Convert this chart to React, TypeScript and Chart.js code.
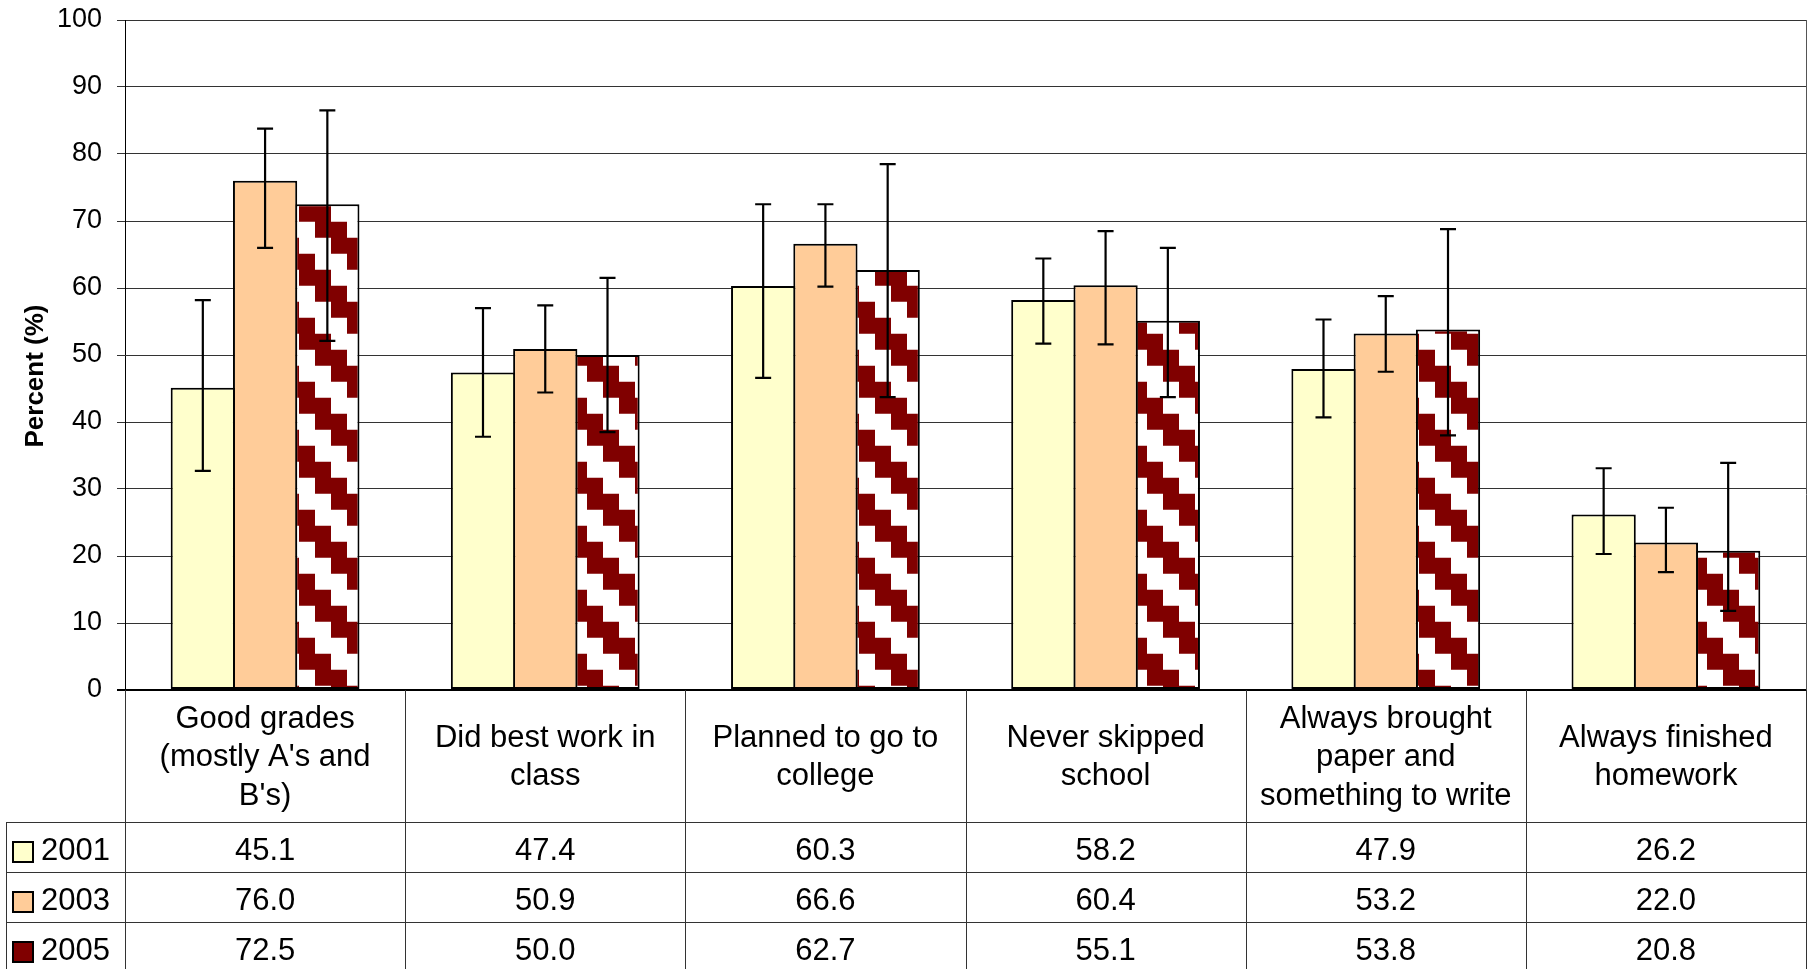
import React, { useEffect, useRef } from "react";
import { Chart, registerables } from "chart.js";

Chart.register(...registerables);

const FONT = "'Liberation Sans', Arial, Helvetica, sans-serif";

const categories: string[][] = [
  ["Good grades", "(mostly A's and", "B's)"],
  ["Did best work in", "class"],
  ["Planned to go to", "college"],
  ["Never skipped", "school"],
  ["Always brought", "paper and", "something to write"],
  ["Always finished", "homework"],
];

const years = ["2001", "2003", "2005"];

const values2001 = [45.1, 47.4, 60.3, 58.2, 47.9, 26.2];
const values2003 = [76.0, 50.9, 66.6, 60.4, 53.2, 22.0];
const values2005 = [72.5, 50.0, 62.7, 55.1, 53.8, 20.8];

const low2001 = [32.7, 37.8, 46.6, 51.7, 40.7, 20.3];
const high2001 = [58.2, 57.0, 72.5, 64.4, 55.3, 33.1];
const low2003 = [66.0, 44.4, 60.2, 51.6, 47.5, 17.6];
const high2003 = [83.8, 57.4, 72.5, 68.5, 58.8, 27.2];
const low2005 = [52.1, 38.5, 43.7, 43.7, 38.0, 11.8];
const high2005 = [86.5, 61.5, 78.5, 66.0, 68.8, 33.9];

const yMin = 0;
const yMax = 100;
const yStep = 10;
const yTitle = "Percent (%)";

const color2001 = "#FFFFCC";
const color2003 = "#FFCC99";
const color2005 = "#800000";

function makePattern(ctx: CanvasRenderingContext2D): CanvasPattern | string {
  const c = document.createElement("canvas");
  c.width = 64;
  c.height = 64;
  const g = c.getContext("2d");
  if (!g) return color2005;
  g.fillStyle = "#FFFFFF";
  g.fillRect(0, 0, 64, 64);
  g.fillStyle = color2005;
  for (let r = 0; r < 4; r++) {
    for (let col = 0; col < 4; col++) {
      if ((((col - r) % 4) + 4) % 4 < 2) g.fillRect(col * 16, r * 16, 16, 16);
    }
  }
  const p = ctx.createPattern(c, "repeat");
  if (!p) return color2005;
  try {
    p.setTransform(new DOMMatrix().translate(43, 13.7));
  } catch (e) {}
  return p;
}

const errorBarPlugin = {
  id: "errorBars",
  afterDatasetsDraw(chart: any) {
    const ctx = chart.ctx;
    const y = chart.scales.y;
    chart.data.datasets.forEach((ds: any, di: number) => {
      const meta = chart.getDatasetMeta(di);
      meta.data.forEach((bar: any, i: number) => {
        const x = bar.x;
        const yl = y.getPixelForValue(ds.errLow[i]);
        const yh = y.getPixelForValue(ds.errHigh[i]);
        ctx.save();
        ctx.strokeStyle = "#000";
        ctx.lineWidth = 2.2;
        ctx.beginPath();
        ctx.moveTo(x, yh);
        ctx.lineTo(x, yl);
        ctx.moveTo(x - 8, yh);
        ctx.lineTo(x + 8, yh);
        ctx.moveTo(x - 8, yl);
        ctx.lineTo(x + 8, yl);
        ctx.stroke();
        ctx.restore();
      });
    });
  },
};

const tablePlugin = {
  id: "dataTable",
  afterDraw(chart: any) {
    const ctx = chart.ctx;
    const { left, right, top, bottom } = chart.chartArea;
    const xs = chart.scales.x;
    const n = categories.length;
    const catW = (right - left) / n;
    const labelBottom = bottom + 132;
    const rowH = 50;
    const H = chart.height;
    const legendLeft = 6;

    ctx.save();
    ctx.strokeStyle = "#555";
    ctx.lineWidth = 1;
    ctx.beginPath();
    ctx.moveTo(Math.round(right) + 0.5, top);
    ctx.lineTo(Math.round(right) + 0.5, H);
    ctx.stroke();

    ctx.strokeStyle = "#333";
    ctx.beginPath();
    for (let i = 0; i <= n; i++) {
      const xb = Math.round(left + i * catW) + 0.5;
      ctx.moveTo(xb, bottom);
      ctx.lineTo(xb, H);
    }
    for (let r = 0; r < years.length; r++) {
      const yy = Math.round(labelBottom + r * rowH) + 0.5;
      ctx.moveTo(legendLeft, yy);
      ctx.lineTo(right, yy);
    }
    ctx.moveTo(legendLeft + 0.5, labelBottom);
    ctx.lineTo(legendLeft + 0.5, H);
    ctx.stroke();

    ctx.fillStyle = "#000";
    ctx.font = `31px ${FONT}`;
    ctx.textAlign = "center";
    ctx.textBaseline = "alphabetic";
    const lh = 38.5;
    const midBase = bottom + 76;
    categories.forEach((lines, i) => {
      const cx = xs.getPixelForValue(i);
      lines.forEach((ln, k) => {
        const by = midBase + (k - (lines.length - 1) / 2) * lh;
        ctx.fillText(ln, cx, by);
      });
    });

    chart.data.datasets.forEach((ds: any, di: number) => {
      const rowTop = labelBottom + di * rowH;
      const base = rowTop + 38;
      ctx.textAlign = "center";
      ds.data.forEach((v: number, i: number) => {
        ctx.fillText(v.toFixed(1), xs.getPixelForValue(i), base);
      });
      ctx.fillStyle = ds.swatch;
      ctx.fillRect(13, rowTop + 20, 20, 20);
      ctx.strokeStyle = "#000";
      ctx.lineWidth = 2;
      ctx.strokeRect(13, rowTop + 20, 20, 20);
      ctx.fillStyle = "#000";
      ctx.textAlign = "left";
      ctx.fillText(ds.label, 41, base);
    });

    ctx.save();
    ctx.translate(33.5, 376);
    ctx.rotate(-Math.PI / 2);
    ctx.font = `bold 26px ${FONT}`;
    ctx.textAlign = "center";
    ctx.textBaseline = "alphabetic";
    ctx.fillText(yTitle, 0, 9);
    ctx.restore();

    ctx.restore();
  },
};

export default function App() {
  const ref = useRef<HTMLCanvasElement | null>(null);

  useEffect(() => {
    const canvas = ref.current;
    if (!canvas) return;
    const ctx = canvas.getContext("2d");
    if (!ctx) return;
    Chart.defaults.font.family = FONT;
    const pattern = makePattern(ctx);

    const common = {
      borderColor: "#000",
      borderWidth: 2,
      borderSkipped: false,
      categoryPercentage: 2 / 3,
      barPercentage: 1.032,
    };

    const chart = new Chart(ctx, {
      type: "bar",
      data: {
        labels: categories.map((c) => c.join(" ")),
        datasets: [
          { ...common, label: years[0], data: values2001, backgroundColor: color2001, errLow: low2001, errHigh: high2001, swatch: color2001 } as any,
          { ...common, label: years[1], data: values2003, backgroundColor: color2003, errLow: low2003, errHigh: high2003, swatch: color2003 } as any,
          { ...common, label: years[2], data: values2005, backgroundColor: pattern, errLow: low2005, errHigh: high2005, swatch: color2005 } as any,
        ],
      },
      options: {
        responsive: false,
        animation: false,
        events: [],
        layout: { padding: { left: 0, top: 20, right: 7, bottom: 279 } },
        plugins: {
          legend: { display: false },
          tooltip: { enabled: false },
          title: { display: false },
        },
        scales: {
          x: {
            display: false,
          },
          y: {
            min: yMin,
            max: yMax,
            afterFit: (scale: any) => {
              scale.width = 125;
              scale.paddingTop = 0;
              scale.paddingBottom = 0;
            },
            ticks: {
              stepSize: yStep,
              padding: 15,
              color: "#000",
              font: { size: 27, family: FONT },
            },
            grid: {
              color: (c: any) => (c.tick && c.tick.value === 0 ? "#000" : "#333"),
              lineWidth: (c: any) => (c.tick && c.tick.value === 0 ? 2 : 1),
              tickLength: 8,
              drawTicks: true,
            },
            border: { display: true, color: "#000", width: 1 },
          },
        },
      } as any,
      plugins: [errorBarPlugin, tablePlugin],
    });

    return () => {
      chart.destroy();
    };
  }, []);

  return (
    <div style={{ position: "absolute", left: 0, top: 0, width: 1813, height: 969, background: "#fff" }}>
      <canvas ref={ref} width={1813} height={969} style={{ display: "block" }} />
    </div>
  );
}
